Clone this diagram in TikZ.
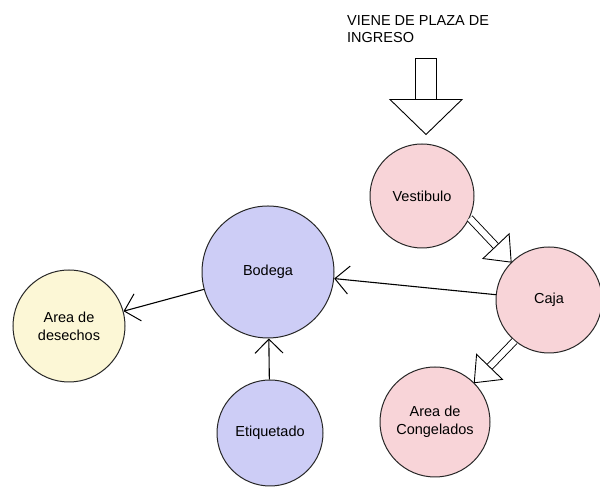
\documentclass[tikz,border=0pt]{standalone}
\usepackage{fontspec}
\setmainfont{Liberation Sans}
\usetikzlibrary{arrows.meta,calc}
\definecolor{rosa}{RGB}{248,212,216}
\definecolor{lila}{RGB}{205,205,246}
\definecolor{crema}{RGB}{252,247,214}

\begin{document}
\begin{tikzpicture}[x=1pt,y=1pt,
	lugar/.style={circle,draw=black!85,line width=1pt,inner sep=0pt,align=center,font=\fontsize{14.5}{18}\selectfont},
	flujo/.style={line width=1.1pt,-{Straight Barb[length=14pt,width=28pt,line width=1pt]}},
	bloque/.style={line width=0.9pt}]
	\useasboundingbox (0,0) rectangle (600,494);
	\node[lugar,fill=rosa,minimum size=104pt] (vest) at (422,298) {Vestibulo};
	\node[lugar,fill=rosa,minimum size=106pt] (caja) at (549,194) {Caja};
	\node[lugar,fill=lila,minimum size=132pt] (bod) at (268,222) {Bodega};
	\node[lugar,fill=crema,minimum size=112pt] (des) at (69,168) {Area de\\desechos};
	\node[lugar,fill=lila,minimum size=106pt] (etiq) at (270,61) {Etiquetado};
	\node[lugar,fill=rosa,minimum size=110pt] (cong) at (435,72) {Area de\\Congelados};
	\node[anchor=north west,inner sep=0pt,align=left,font=\fontsize{14.5}{17}\selectfont] (viene) at (347,479) {VIENE DE PLAZA DE\\INGRESO};
	% entrada desde la plaza
	\coordinate (entrada) at (426,436);
	\coordinate (punta) at ($(vest.north)+(4,9)$);
	\draw[bloque] ($(entrada)+(-10.5,0)$) rectangle ($(punta)+(10.5,35)$);
	\draw[bloque,fill=white] ($(punta)+(-36,35)$) -- (punta) -- ($(punta)+(36,35)$) -- cycle;
	% flechas dobles
	\foreach \a/\b in {vest.-25/caja.135,caja.-130/cong.45} {
		\draw[bloque,double,double distance=6pt] (\a) -- ($(\b)!22pt!(\a)$);
		\draw[bloque,fill=white] ($(\b)!22pt!(\a)!18pt!90:(\a)$) -- (\b) -- ($(\b)!22pt!(\a)!18pt!-90:(\a)$) -- cycle;
	}
	\draw[flujo] (caja) -- (bod);
	\draw[flujo] (bod) -- (des);
	\draw[flujo] (etiq) -- (bod);
\end{tikzpicture}
\end{document}
